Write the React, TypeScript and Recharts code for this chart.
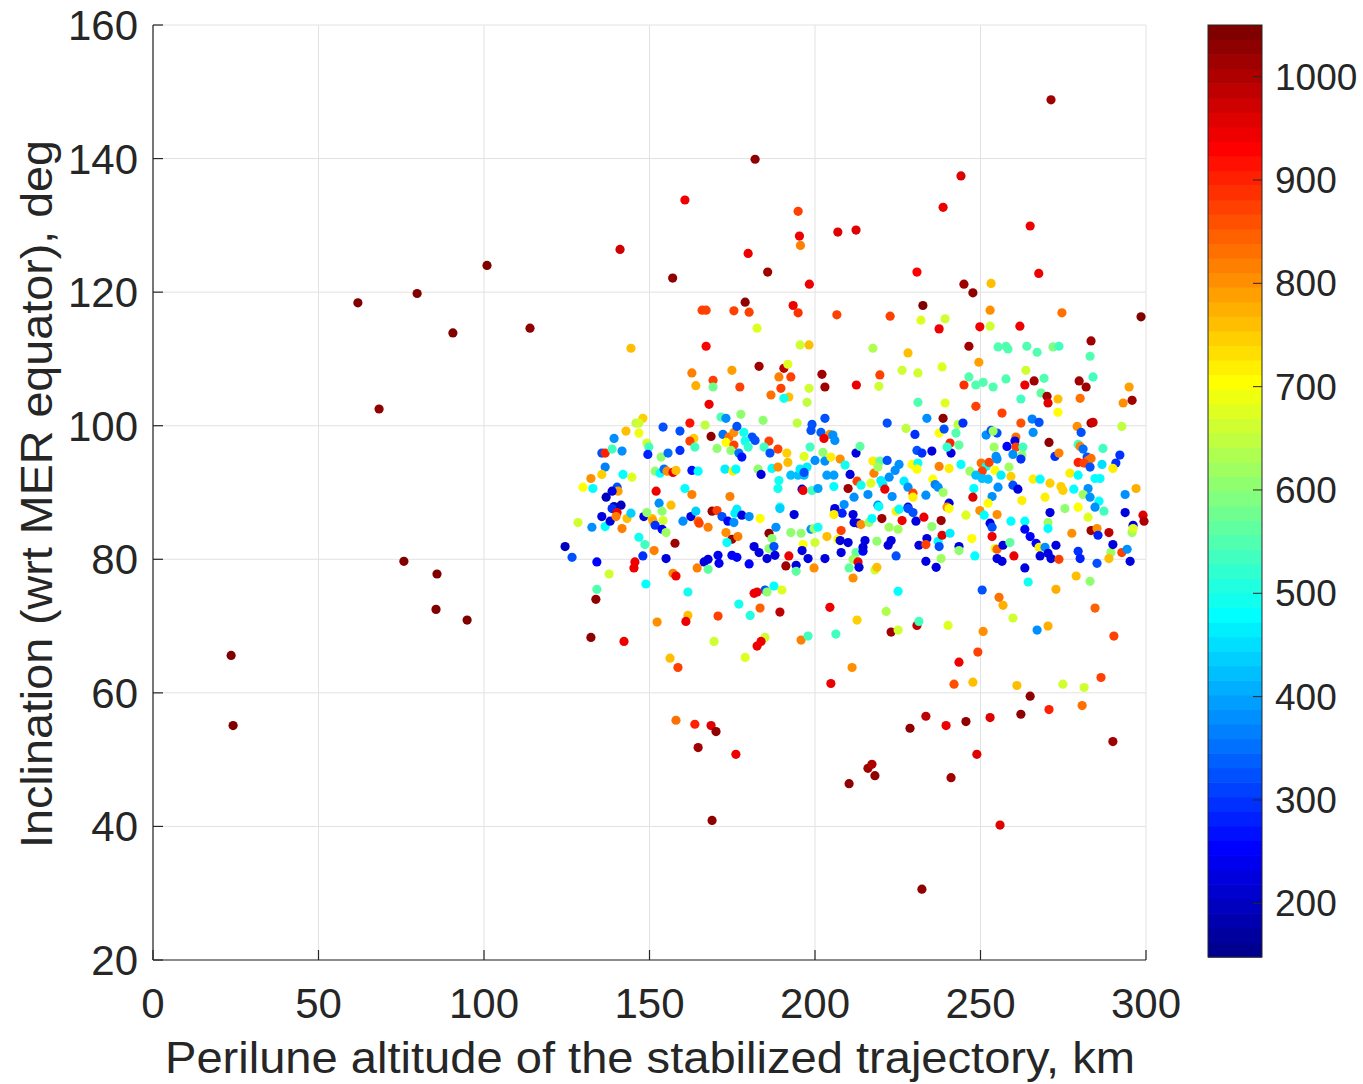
import React from "react";
import { ScatterChart, Scatter, XAxis, YAxis, CartesianGrid } from "recharts";

// each point: [perilune altitude km, inclination deg, colour value]
type Pt = [number, number, number];

const farLeft: Pt[] = [
  [23.6, 65.6, 1040], [24.2, 55.1, 1040], [61.9, 118.4, 1040], [79.8, 119.8, 1040],
  [68.3, 102.5, 1030], [90.6, 113.9, 1040], [100.9, 124.0, 1040], [113.9, 114.6, 1030],
  [75.8, 79.7, 1040], [85.8, 77.8, 1040], [85.5, 72.5, 1040], [94.9, 70.9, 1040],
];

const upperScatter: Pt[] = [
  [271.3, 148.8, 1020], [181.9, 139.9, 1030], [244.1, 137.4, 960], [160.7, 133.8, 950],
  [194.9, 132.1, 880], [238.7, 132.7, 950], [195.3, 128.4, 940], [195.6, 127.0, 820],
  [206.9, 129.0, 960], [212.4, 129.3, 960], [265.0, 129.9, 950], [141.1, 126.4, 970],
  [157.0, 122.1, 1030], [179.8, 125.8, 950], [185.7, 123.0, 1020], [198.3, 121.2, 950],
  [230.8, 123.0, 930], [245.0, 121.2, 1020], [267.6, 122.8, 950], [298.5, 116.3, 1040],
  [144.4, 111.6, 760], [178.9, 118.5, 1030], [193.4, 118.0, 950], [194.9, 116.9, 890],
  [206.6, 116.6, 880], [165.9, 117.3, 870], [167.1, 117.3, 870], [175.5, 117.2, 880],
  [180.1, 117.0, 880], [182.5, 114.6, 670], [167.1, 111.9, 930], [195.5, 112.1, 660],
  [198.2, 112.1, 760], [183.1, 108.9, 1020], [190.6, 108.6, 980], [191.8, 109.2, 670],
  [202.1, 107.7, 1020], [162.8, 107.9, 820], [174.9, 108.3, 790], [169.2, 106.8, 880],
  [189.1, 107.3, 820], [192.7, 107.3, 880], [164.0, 106.0, 770], [169.2, 105.8, 580],
  [177.3, 105.8, 880], [189.7, 105.6, 880], [198.2, 105.6, 660], [203.0, 105.8, 1020],
  [212.5, 106.1, 950], [247.7, 119.9, 1030], [253.2, 121.3, 760], [232.6, 118.0, 1040],
  [222.7, 116.4, 880], [232.0, 115.8, 670], [239.3, 116.0, 660], [237.5, 114.5, 940],
  [249.8, 114.8, 950], [252.9, 117.3, 810], [252.9, 114.9, 660], [261.9, 114.9, 950],
  [274.6, 116.9, 830], [283.4, 112.7, 1010], [283.1, 110.4, 550], [284.0, 107.3, 540],
  [217.5, 111.6, 640], [228.1, 110.9, 760], [246.5, 111.9, 1020], [249.5, 109.5, 790],
  [255.3, 111.8, 550], [257.7, 111.9, 550], [258.3, 111.5, 550], [264.0, 111.9, 550],
  [267.1, 111.0, 550], [271.9, 111.8, 590], [273.7, 111.9, 540], [226.3, 108.3, 660],
  [231.1, 107.9, 660], [238.4, 108.8, 680], [219.6, 107.6, 880], [219.3, 105.9, 660],
  [245.0, 106.1, 890], [246.5, 107.3, 550], [248.6, 106.1, 550], [250.8, 106.5, 550],
  [253.8, 105.8, 550], [257.7, 107.0, 550], [263.7, 108.3, 660], [263.4, 106.1, 950],
  [266.2, 106.7, 1020], [269.2, 107.1, 550], [279.8, 106.7, 1010], [281.9, 105.8, 1020],
  [294.9, 105.8, 790],
];

const lowerScatter: Pt[] = [
  [133.8, 74.0, 1030], [132.3, 68.3, 1030], [142.3, 67.7, 950], [152.3, 70.6, 800],
  [161.6, 71.6, 760], [161.0, 70.7, 940], [170.7, 71.5, 880], [177.0, 73.3, 500],
  [180.4, 71.6, 510], [183.4, 72.7, 840], [189.4, 72.1, 980], [204.5, 72.8, 950],
  [169.5, 67.7, 660], [184.9, 68.3, 660], [183.7, 67.7, 950], [182.5, 67.0, 940],
  [195.8, 67.9, 820], [197.9, 68.5, 530], [206.3, 68.8, 540], [156.2, 65.2, 760],
  [158.6, 63.8, 870], [178.9, 65.3, 670], [204.8, 61.4, 950], [211.2, 63.8, 810],
  [158.0, 55.9, 830], [163.7, 55.3, 900], [168.6, 55.1, 960], [170.1, 54.2, 1030],
  [164.7, 51.8, 1020], [176.1, 50.8, 940], [168.9, 40.9, 1030], [210.3, 46.4, 1030],
  [232.3, 30.6, 1030], [216.0, 48.7, 1020], [217.2, 49.3, 1000], [218.1, 47.6, 1030],
  [241.1, 47.3, 1010], [255.9, 40.2, 960], [228.7, 54.7, 1030], [233.5, 56.5, 990],
  [239.6, 55.1, 940], [245.6, 55.7, 1030], [252.9, 56.3, 960], [248.9, 50.8, 960],
  [262.2, 56.8, 1030], [265.0, 59.5, 1030], [270.7, 57.5, 900], [280.7, 58.1, 830],
  [290.0, 52.7, 1010], [286.4, 62.3, 880], [281.3, 60.8, 660], [274.9, 61.3, 660],
  [261.0, 61.1, 760], [247.7, 61.6, 760], [242.0, 61.3, 860], [243.5, 64.6, 950],
  [249.2, 66.1, 880], [250.8, 69.2, 800], [256.8, 73.1, 770], [259.8, 71.2, 660],
  [267.1, 69.4, 380], [270.4, 70.0, 770], [284.6, 72.7, 840], [290.3, 68.5, 880],
  [221.5, 72.2, 640], [223.0, 69.1, 1020], [225.1, 69.4, 660], [230.8, 70.1, 990],
  [231.4, 70.7, 530], [240.2, 70.1, 680], [212.7, 70.9, 750],
];

const bandUpperLeft: Pt[] = [
  [168.0, 103.2, 950], [171.6, 101.3, 550], [173.1, 101.1, 380], [177.6, 101.7, 600],
  [148.0, 101.1, 750], [145.9, 100.4, 650], [146.8, 100.4, 660], [142.9, 99.2, 760],
  [146.8, 98.9, 690], [154.1, 99.8, 330], [159.2, 99.2, 320], [162.2, 100.4, 920],
  [166.8, 100.1, 650], [168.6, 98.4, 1030], [163.4, 98.1, 750], [162.2, 97.7, 870],
  [163.7, 96.8, 540], [172.2, 98.7, 350], [174.0, 98.3, 830], [175.5, 99.0, 800],
  [176.4, 99.9, 330], [178.5, 99.0, 500], [181.0, 98.3, 320], [173.1, 97.5, 710],
  [175.5, 97.1, 880], [174.6, 96.3, 600], [170.4, 96.6, 600], [178.9, 97.7, 500],
  [179.8, 96.8, 520], [177.0, 95.9, 350], [177.9, 95.3, 270], [139.3, 98.1, 380],
  [135.6, 95.9, 330], [136.6, 95.9, 900], [138.7, 96.5, 530], [141.7, 96.2, 380],
  [149.2, 97.4, 660], [149.8, 96.8, 530], [149.5, 95.7, 280], [153.5, 95.3, 600],
  [155.6, 95.9, 350], [159.2, 96.3, 300], [136.6, 93.8, 370], [135.6, 92.7, 740],
  [132.3, 92.1, 800], [129.9, 90.8, 700], [132.9, 90.6, 480], [142.0, 92.7, 480],
  [144.7, 92.3, 680], [140.2, 90.8, 320], [140.5, 90.2, 790], [138.7, 90.2, 220],
  [136.9, 89.3, 200], [151.7, 93.2, 610], [153.2, 92.9, 480], [154.4, 93.5, 350],
  [155.3, 93.2, 800], [157.1, 93.0, 940], [158.0, 93.3, 760], [162.8, 93.3, 270],
  [164.7, 93.2, 480], [172.8, 93.5, 470], [175.2, 93.2, 720], [176.1, 93.5, 480],
  [152.0, 90.2, 950], [160.7, 90.6, 480], [162.8, 89.7, 820], [174.3, 89.4, 820],
  [152.9, 88.4, 380], [156.5, 88.1, 760], [139.3, 87.9, 200], [141.4, 88.1, 200],
];

const bandUpperMid: Pt[] = [
  [186.7, 104.6, 830], [192.1, 104.3, 760], [190.6, 104.1, 500], [197.6, 103.5, 650],
  [231.1, 103.5, 550], [239.3, 103.4, 680], [203.0, 101.1, 330], [194.6, 100.4, 650],
  [184.3, 100.8, 600], [221.8, 100.4, 330], [227.5, 99.6, 650], [233.8, 101.1, 380],
  [238.7, 101.1, 1030], [199.1, 100.2, 330], [198.8, 99.3, 330], [201.8, 99.0, 340],
  [204.5, 98.7, 800], [202.7, 98.1, 950], [205.4, 98.6, 380], [206.0, 97.8, 380],
  [230.2, 98.7, 300], [237.5, 98.9, 710], [239.0, 99.5, 330], [240.8, 97.4, 900],
  [241.1, 95.9, 230], [239.9, 96.8, 520], [186.1, 97.7, 880], [184.6, 96.8, 540],
  [188.8, 96.5, 870], [186.4, 95.9, 330], [191.5, 95.9, 750], [198.5, 96.8, 540],
  [202.4, 96.0, 610], [196.7, 95.4, 670], [191.8, 94.5, 760], [200.0, 94.8, 380],
  [203.0, 94.7, 380], [204.8, 95.3, 720], [207.6, 95.0, 800], [209.1, 94.1, 490],
  [212.4, 95.9, 220], [213.6, 96.9, 560], [217.5, 94.7, 720], [219.6, 94.7, 560],
  [221.8, 94.8, 320], [225.4, 94.2, 380], [230.8, 96.3, 330], [232.3, 95.9, 300],
  [235.3, 96.2, 230], [229.3, 94.2, 710], [231.1, 94.4, 500], [230.8, 93.5, 700],
  [237.5, 93.9, 820], [240.5, 93.6, 720], [182.8, 93.5, 600], [183.7, 92.7, 230],
  [187.0, 93.6, 480], [188.8, 93.8, 800], [192.7, 92.6, 420], [194.9, 92.6, 420],
  [196.7, 92.6, 420], [195.5, 93.5, 470], [197.6, 93.8, 470], [196.7, 93.0, 330],
  [189.1, 91.8, 490], [188.8, 90.6, 490], [203.6, 92.6, 400], [205.7, 92.6, 400],
  [210.6, 92.7, 220], [212.7, 91.7, 870], [213.9, 91.1, 490], [216.9, 91.4, 680],
  [217.8, 92.9, 820], [219.0, 93.8, 620], [219.9, 91.8, 460], [220.5, 91.2, 460],
  [222.4, 92.3, 380], [224.2, 93.3, 380], [226.9, 91.7, 470], [228.1, 90.8, 380],
  [235.6, 92.0, 700], [236.3, 91.2, 370], [237.2, 90.8, 380], [196.1, 90.5, 230],
  [196.4, 90.3, 950], [199.1, 90.3, 540], [200.9, 90.6, 400], [205.7, 90.9, 480],
  [210.0, 90.6, 1010], [221.1, 90.5, 950], [229.6, 89.9, 880], [229.6, 89.3, 720],
  [233.5, 89.6, 380], [238.7, 90.0, 620], [240.5, 88.4, 230], [239.9, 87.8, 800],
  [206.0, 87.6, 220], [208.8, 88.2, 380], [211.8, 89.3, 380], [216.0, 89.7, 380],
  [219.0, 88.1, 380], [223.3, 89.4, 380], [228.1, 87.8, 230], [189.4, 87.8, 490],
  [181.9, 97.8, 330],
];

const bandUpperRight: Pt[] = [
  [248.6, 102.9, 870], [256.5, 101.9, 880], [262.2, 104.0, 540], [268.3, 104.9, 560],
  [270.1, 104.4, 1020], [270.4, 103.4, 960], [273.4, 104.0, 760], [280.1, 104.1, 830],
  [273.4, 102.0, 710], [293.1, 103.4, 800], [295.8, 103.8, 1010], [262.2, 100.4, 860],
  [265.6, 101.0, 370], [267.7, 100.5, 320], [265.9, 99.0, 380], [243.2, 100.2, 650],
  [244.7, 100.4, 300], [279.2, 99.9, 800], [280.4, 99.0, 330], [283.4, 100.4, 1020],
  [284.0, 100.5, 970], [292.7, 99.9, 650], [242.6, 98.9, 550], [243.5, 97.1, 560],
  [251.7, 98.6, 380], [253.2, 99.3, 320], [255.0, 98.9, 320], [253.8, 99.2, 620],
  [260.7, 98.3, 830], [260.4, 97.7, 230], [258.0, 96.9, 250], [260.7, 96.8, 870],
  [262.8, 96.8, 540], [254.1, 96.8, 620], [270.7, 97.5, 1030], [279.5, 97.2, 540],
  [280.1, 96.9, 820], [281.0, 96.5, 350], [287.0, 96.6, 540], [292.1, 95.6, 300],
  [254.7, 95.4, 380], [259.8, 95.7, 380], [262.5, 95.6, 600], [262.2, 95.0, 300],
  [272.5, 95.4, 300], [273.7, 95.9, 820], [282.2, 95.3, 320], [282.5, 94.8, 830],
  [283.4, 95.1, 830], [279.5, 94.5, 900], [281.3, 94.4, 870], [283.1, 93.8, 330],
  [286.7, 94.2, 450], [290.9, 94.4, 290], [290.0, 93.6, 720], [244.1, 94.2, 480],
  [246.8, 93.2, 620], [250.2, 94.4, 830], [251.7, 93.9, 480], [250.5, 93.2, 870],
  [252.6, 94.5, 870], [248.6, 92.6, 420], [250.5, 92.1, 420], [252.3, 92.0, 420],
  [254.4, 93.3, 710], [255.0, 95.0, 380], [258.6, 93.8, 620], [259.2, 92.4, 750],
  [256.2, 92.6, 460], [265.9, 92.0, 720], [268.0, 92.0, 480], [271.0, 91.4, 750],
  [274.3, 90.9, 750], [274.9, 90.3, 750], [277.0, 92.9, 720], [279.5, 92.6, 480],
  [278.2, 90.5, 480], [284.6, 92.1, 480], [286.1, 92.1, 480], [282.5, 90.6, 380],
  [297.0, 90.6, 770], [255.3, 90.8, 380], [259.8, 91.1, 330], [261.3, 90.5, 230],
  [248.0, 90.6, 480], [247.7, 89.3, 960], [253.5, 89.4, 380], [262.5, 88.8, 720],
  [269.5, 89.3, 720], [281.0, 89.7, 620], [283.1, 89.3, 380], [285.8, 88.7, 480],
  [293.7, 89.7, 380], [252.3, 88.4, 700],
];

const bandLowerLeft: Pt[] = [
  [128.4, 85.5, 660], [132.6, 84.8, 380], [135.6, 86.4, 220], [136.6, 84.9, 480],
  [138.1, 85.7, 220], [138.7, 87.6, 300], [140.2, 87.0, 940], [139.9, 86.4, 820],
  [143.2, 86.1, 760], [144.4, 86.9, 440], [141.7, 84.6, 820], [148.3, 86.4, 220],
  [150.8, 86.1, 760], [151.1, 85.7, 790], [149.2, 87.0, 600], [153.8, 87.2, 610],
  [154.1, 85.8, 660], [151.7, 85.1, 290], [153.8, 84.5, 250], [155.0, 84.0, 620],
  [146.8, 83.3, 490], [148.6, 82.2, 540], [151.4, 81.3, 820], [157.7, 82.4, 1020],
  [124.5, 81.9, 200], [126.6, 80.3, 320], [134.1, 79.6, 260], [148.0, 80.5, 300],
  [155.0, 80.1, 220], [145.6, 79.6, 950], [145.3, 78.7, 950], [137.8, 77.8, 660],
  [134.1, 75.5, 550], [148.9, 76.3, 480], [157.1, 77.9, 820], [158.0, 77.5, 950],
  [161.6, 75.1, 490], [160.1, 85.7, 380], [162.5, 86.4, 220], [164.0, 87.2, 430],
  [164.7, 85.7, 830], [165.0, 85.4, 880], [167.7, 84.8, 820], [168.9, 87.2, 1020],
  [170.4, 87.3, 880], [171.9, 86.4, 330], [173.1, 84.0, 810], [173.7, 85.7, 260],
  [175.5, 85.5, 380], [175.8, 86.9, 470], [176.4, 87.5, 470], [177.9, 86.6, 230],
  [180.1, 86.4, 380], [174.9, 83.0, 1020], [173.4, 82.5, 480], [176.7, 83.4, 820],
  [166.5, 79.6, 230], [167.7, 80.0, 230], [170.7, 80.6, 240], [171.0, 79.4, 240],
  [174.9, 80.6, 250], [176.4, 80.3, 250], [180.1, 79.3, 260], [181.6, 81.9, 220],
  [164.4, 78.7, 820], [167.7, 78.5, 560], [181.6, 74.9, 940],
];

const bandLowerMid: Pt[] = [
  [189.4, 87.6, 440], [193.7, 86.7, 220], [183.4, 86.1, 710], [188.2, 84.8, 380],
  [186.1, 83.9, 1030], [187.0, 83.1, 600], [186.1, 81.6, 600], [183.1, 81.0, 220],
  [187.6, 81.9, 330], [187.9, 80.6, 220], [185.5, 80.1, 220], [192.7, 84.0, 610],
  [195.8, 83.9, 610], [196.4, 82.2, 710], [196.1, 81.3, 230], [192.1, 80.5, 950],
  [194.3, 79.1, 230], [194.3, 78.2, 560], [191.2, 79.0, 1020], [198.8, 84.5, 380],
  [199.7, 84.6, 620], [200.9, 84.8, 490], [200.0, 82.5, 660], [197.9, 80.1, 230],
  [199.7, 78.7, 810], [203.0, 80.1, 230], [206.0, 87.3, 230], [208.2, 86.9, 280],
  [211.5, 86.7, 230], [205.7, 86.7, 720], [211.8, 85.5, 230], [213.0, 85.4, 230],
  [213.9, 85.2, 810], [216.3, 85.5, 620], [217.2, 86.1, 480], [220.2, 86.1, 1010],
  [219.3, 87.9, 480], [203.6, 83.4, 760], [207.9, 84.3, 880], [206.9, 83.0, 710],
  [207.6, 82.8, 230], [210.0, 82.5, 230], [207.9, 81.0, 230], [212.4, 81.0, 560],
  [211.5, 80.0, 620], [213.0, 79.6, 950], [213.3, 78.8, 230], [210.3, 78.7, 560],
  [214.5, 81.2, 250], [215.1, 82.8, 230], [214.5, 81.8, 230], [218.7, 82.7, 610],
  [218.1, 78.4, 660], [218.7, 78.8, 760], [211.5, 77.2, 800], [222.4, 84.8, 620],
  [225.1, 84.5, 620], [223.0, 82.8, 230], [222.1, 82.1, 230], [224.5, 80.5, 320],
  [224.5, 87.2, 720], [226.3, 85.8, 950], [225.4, 87.5, 480], [228.1, 87.6, 330],
  [229.6, 87.0, 330], [230.5, 85.7, 230], [232.9, 86.3, 950], [235.3, 84.9, 600],
  [233.8, 83.1, 230], [231.4, 82.1, 230], [233.5, 82.2, 880], [237.2, 82.7, 480],
  [238.1, 85.8, 1020], [238.4, 83.6, 960], [237.5, 81.9, 330], [240.8, 83.9, 470],
  [240.5, 87.6, 710], [233.5, 79.7, 230], [236.6, 78.8, 230], [238.1, 80.1, 620],
  [225.1, 75.2, 480], [187.6, 76.0, 480], [184.9, 75.4, 330], [185.5, 75.1, 600],
  [190.0, 75.4, 680], [182.5, 75.1, 940],
];

const bandLowerRight: Pt[] = [
  [245.6, 86.6, 680], [249.8, 87.3, 810], [251.1, 86.6, 480], [255.0, 86.7, 800],
  [259.2, 85.7, 480], [263.4, 85.7, 480], [252.9, 85.4, 230], [253.5, 84.8, 330],
  [253.5, 83.4, 950], [247.4, 83.1, 700], [243.5, 81.9, 230], [243.5, 81.3, 610],
  [248.3, 80.5, 480], [254.4, 81.6, 680], [255.0, 81.5, 840], [256.8, 82.1, 230],
  [255.0, 80.1, 230], [256.5, 79.7, 230], [258.9, 82.5, 560], [260.1, 80.5, 950],
  [263.4, 84.5, 250], [265.0, 83.4, 250], [266.8, 82.4, 250], [267.7, 81.8, 720],
  [269.5, 81.8, 380], [268.0, 80.5, 230], [270.4, 80.9, 230], [271.3, 80.1, 230],
  [272.8, 82.1, 230], [273.7, 80.0, 880], [270.4, 85.5, 620], [270.4, 84.6, 480],
  [271.0, 87.0, 230], [275.5, 87.6, 600], [279.5, 87.8, 710], [284.6, 87.8, 380],
  [287.3, 87.2, 540], [282.5, 86.3, 680], [277.6, 83.9, 810], [283.4, 84.3, 1010],
  [285.2, 84.6, 800], [285.5, 83.6, 280], [288.8, 84.0, 990], [279.5, 81.2, 300],
  [280.1, 80.1, 280], [285.2, 79.4, 330], [289.4, 81.0, 620], [290.0, 82.2, 230],
  [288.8, 80.1, 760], [292.7, 81.0, 880], [294.3, 81.5, 380], [295.2, 79.7, 230],
  [293.7, 87.0, 230], [296.1, 85.1, 230], [295.8, 84.0, 620], [296.1, 84.6, 680],
  [299.1, 86.6, 960], [299.4, 85.7, 1000], [263.4, 78.7, 230], [264.4, 76.6, 490],
  [278.9, 77.5, 760], [283.1, 76.7, 600], [272.8, 75.5, 770], [250.5, 75.4, 330],
  [255.6, 74.3, 830],
];

const points: Pt[] = [
  ...farLeft, ...upperScatter, ...lowerScatter,
  ...bandUpperLeft, ...bandUpperMid, ...bandUpperRight,
  ...bandLowerLeft, ...bandLowerMid, ...bandLowerRight,
];

const xTicks = [0, 50, 100, 150, 200, 250, 300];
const yTicks = [20, 40, 60, 80, 100, 120, 140, 160];
const colorTicks = [200, 300, 400, 500, 600, 700, 800, 900, 1000];
const C_MIN = 148;
const C_MAX = 1050;

const FONT = '"Liberation Sans", Arial, Helvetica, sans-serif';
const INK = "#262626";

// MATLAB-style jet(64)
function makeJet(m: number): string[] {
  const n = Math.ceil(m / 4);
  const u: number[] = [];
  for (let i = 1; i <= n; i++) u.push(i / n);
  for (let i = 1; i < n; i++) u.push(1);
  for (let i = n; i >= 1; i--) u.push(i / n);
  const off = Math.ceil(n / 2) - (m % 4 === 1 ? 1 : 0);
  const rgb = Array.from({ length: m }, () => [0, 0, 0]);
  u.forEach((v, k) => {
    const g = off + k + 1;
    const r = g + n;
    const b = g - n;
    if (g >= 1 && g <= m) rgb[g - 1][1] = v;
    if (r >= 1 && r <= m) rgb[r - 1][0] = v;
    if (b >= 1 && b <= m) rgb[b - 1][2] = v;
  });
  return rgb.map(([r, g, b]) => `rgb(${Math.round(r * 255)},${Math.round(g * 255)},${Math.round(b * 255)})`);
}
const JET = makeJet(64);

function colorOf(v: number) {
  const t = (v - C_MIN) / (C_MAX - C_MIN);
  const i = Math.min(63, Math.max(0, Math.floor(t * 64)));
  return JET[i];
}

const data = points.map(([x, y, c]) => ({ x, y, c }));

const XTick = ({ x, y, payload }: any) => (
  <text x={x} y={y + 58} textAnchor="middle" fontSize={42} fontFamily={FONT} fill={INK}>
    {payload.value}
  </text>
);

const YTick = ({ x, y, payload }: any) => (
  <text x={x - 15} y={y + 15} textAnchor="end" fontSize={42} fontFamily={FONT} fill={INK}>
    {payload.value}
  </text>
);

const Dot = (props: any) => {
  const { cx, cy, payload } = props;
  if (cx == null || cy == null) return null;
  return <circle cx={cx} cy={cy} r={4.6} fill={colorOf(payload.c)} />;
};

// colorbar geometry
const CB_X = 1208;
const CB_W = 54;
const CB_TOP = 25;
const CB_BOTTOM = 957;
const cbY = (v: number) => CB_BOTTOM - ((v - C_MIN) / (C_MAX - C_MIN)) * (CB_BOTTOM - CB_TOP);

function ColorBar() {
  const band = (CB_BOTTOM - CB_TOP) / 64;
  return (
    <g>
      {JET.map((col, i) => (
        <rect key={i} x={CB_X} y={CB_BOTTOM - (i + 1) * band} width={CB_W} height={band + 0.6} fill={col} />
      ))}
      <rect x={CB_X} y={CB_TOP} width={CB_W} height={CB_BOTTOM - CB_TOP} fill="none" stroke={INK} strokeWidth={1} />
      {colorTicks.map((t) => (
        <g key={t}>
          <line x1={CB_X + CB_W - 9} x2={CB_X + CB_W} y1={cbY(t)} y2={cbY(t)} stroke={INK} strokeWidth={1} />
          <text x={1275} y={cbY(t) + 13} fontSize={37} fontFamily={FONT} fill={INK}>
            {t}
          </text>
        </g>
      ))}
    </g>
  );
}

export default function App() {
  return (
    <div style={{ position: "absolute", left: 0, top: 0, width: 1363, height: 1084, background: "#fff" }}>
      <ScatterChart width={1363} height={1084} margin={{ top: 25, right: 217, bottom: 64, left: 73 }}>
        <CartesianGrid stroke="#e2e2e2" strokeWidth={1} />
        <XAxis
          type="number"
          dataKey="x"
          domain={[0, 300]}
          ticks={xTicks}
          interval={0}
          height={60}
          tickSize={-10}
          tickMargin={10}
          tick={<XTick />}
          axisLine={{ stroke: INK, strokeWidth: 1.2 }}
          tickLine={{ stroke: INK, strokeWidth: 1.2 }}
        />
        <YAxis
          type="number"
          dataKey="y"
          domain={[20, 160]}
          ticks={yTicks}
          interval={0}
          width={80}
          tickSize={-10}
          tickMargin={10}
          tick={<YTick />}
          axisLine={{ stroke: INK, strokeWidth: 1.2 }}
          tickLine={{ stroke: INK, strokeWidth: 1.2 }}
        />
        <Scatter data={data} shape={<Dot />} isAnimationActive={false} />
      </ScatterChart>
      <svg
        width={1363}
        height={1084}
        style={{ position: "absolute", left: 0, top: 0, pointerEvents: "none" }}
      >
        <ColorBar />
        <text
          x={650}
          y={1073}
          textAnchor="middle"
          fontSize={44}
          fontFamily={FONT}
          fill={INK}
          textLength={970}
          lengthAdjust="spacingAndGlyphs"
        >
          Perilune altitude of the stabilized trajectory, km
        </text>
        <text
          transform="translate(52,494) rotate(-90)"
          textAnchor="middle"
          fontSize={44}
          fontFamily={FONT}
          fill={INK}
          textLength={708}
          lengthAdjust="spacingAndGlyphs"
        >
          Inclination (wrt MER equator), deg
        </text>
      </svg>
    </div>
  );
}
